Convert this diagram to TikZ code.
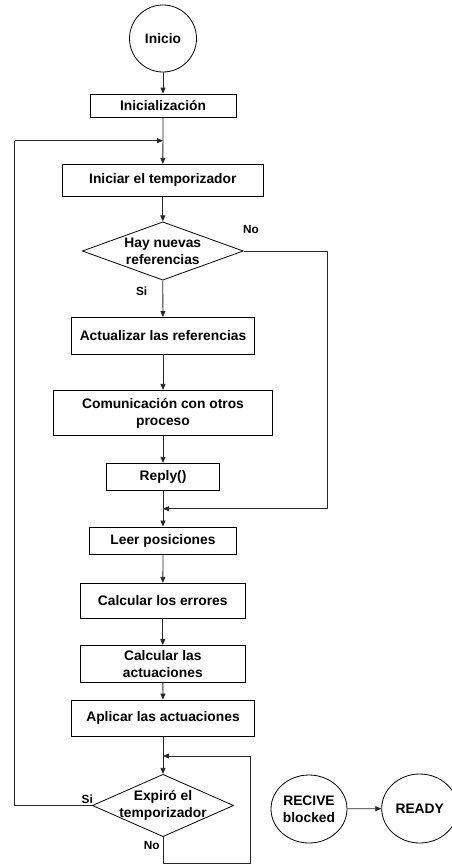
\documentclass[tikz,border=0pt]{standalone}
\usepackage{fontspec}
\setmainfont{Liberation Sans}
\usetikzlibrary{shapes.geometric,arrows.meta}
\begin{document}
\begin{tikzpicture}[x=1pt,y=-1pt,
  every node/.style={font=\fontsize{13.8}{17}\selectfont\bfseries, inner sep=0pt},
  box/.style={draw, line width=0.8pt, rectangle, align=center},
  circ/.style={draw, line width=0.8pt, ellipse, align=center},
  dia/.style={draw, line width=0.8pt, diamond, minimum width=#1},
  txt/.style={align=center},
  lbl/.style={font=\fontsize{11.8}{14}\selectfont\bfseries},
  conn/.style={line width=0.8pt, draw=black!85},
  arr/.style={conn, -{Triangle[length=6pt,width=5pt]}}
]
\useasboundingbox (0,0) rectangle (451,865);
\node[circ, minimum width=67, minimum height=67] (inicio) at (163,38.5) {Inicio};
\node[box, minimum width=146, minimum height=23] (ini) at (163,105.5) {Inicialización};
\node[box, minimum width=201, minimum height=32] (iniciar) at (162.8,180.3) {Iniciar el temporizador};
\node[dia=161, minimum height=58.3, aspect=2.76, label={[txt]center:Hay nuevas\\referencias}] (hay) at (162.8,251) {};
\node[box, minimum width=182.6, minimum height=36.7] (act) at (163,335.7) {Actualizar las referencias};
\node[box, minimum width=219.4, minimum height=45.4] (com) at (163,413) {Comunicación con otros\\proceso};
\node[box, minimum width=112.6, minimum height=27.4] (reply) at (163,477) {Reply()};
\node[box, minimum width=146.3, minimum height=27.7] (leer) at (163,540.8) {Leer posiciones};
\node[box, minimum width=165, minimum height=35] (err) at (162.8,600.8) {Calcular los errores};
\node[box, minimum width=165, minimum height=36.7] (actu) at (162.8,663.7) {Calcular las\\actuaciones};
\node[box, minimum width=182.6, minimum height=36.7] (apl) at (163,718.3) {Aplicar las actuaciones};
\node[dia=141.3, minimum height=62.4, aspect=2.26, label={[txt]center:Expiró el\\temporizador}] (exp) at (163,805.5) {};
\node[circ, minimum width=76, minimum height=68] (recive) at (309,809) {RECIVE\\blocked};
\node[circ, minimum width=76, minimum height=69] (ready) at (419.7,808.5) {READY};

\coordinate (m0) at (163,140.7);
\coordinate (m1) at (163,508.7);
\coordinate (m2) at (163,756);
\coordinate (r1) at (327.3,251);
\coordinate (l0) at (14.7,805.5);
\coordinate (b0) at (163,863.5);
\coordinate (b1) at (250,863.5);

\node[lbl] (no1) at (251,229) {No};
\node[lbl] (si1) at (141.7,291.7) {Si};
\node[lbl] (si2) at (87.3,799.3) {Si};
\node[lbl] (no2) at (151.7,845) {No};

\draw[arr] (inicio) -- (ini);
\draw[arr] (ini) -- (iniciar);
\draw[arr] (iniciar) -- (hay.north);
\draw[arr] (hay.south) -- (act);
\draw[arr] (act) -- (com);
\draw[arr] (com) -- (reply);
\draw[arr] (reply) -- (leer);
\draw[arr] (r1 |- m1) -- (m1);
\draw[conn] (hay.east) -- (r1) -- (r1 |- m1);
\draw[arr] (leer) -- (err);
\draw[arr] (err) -- (actu);
\draw[arr] (actu) -- (apl);
\draw[arr] (apl) -- (exp.north);
\draw[conn] (exp.south) -- (b0) -- (b1) -- (b1 |- m2);
\draw[arr] (b1 |- m2) -- (m2);
\draw[conn] (exp.west) -- (l0) -- (l0 |- m0);
\draw[arr] (l0 |- m0) -- (m0);
\draw[arr] (recive) -- (ready);
\end{tikzpicture}
\end{document}
